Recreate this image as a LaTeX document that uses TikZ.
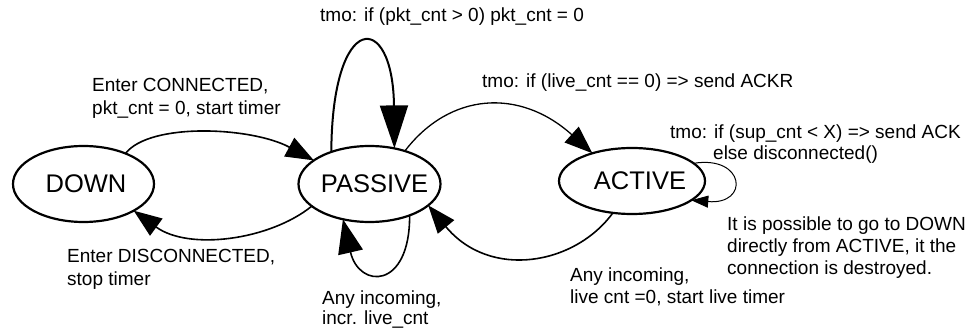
\documentclass[tikz,border=0pt]{standalone}
\usepackage{fontspec}
\setmainfont{Liberation Sans}
\usetikzlibrary{arrows.meta,shapes.geometric}
\begin{document}
\begin{tikzpicture}[x=1pt,y=-1pt,
  state/.style={ellipse,draw,line width=2.2pt,inner sep=0pt,outer sep=0pt,font=\fontsize{25.5}{30}\selectfont},
  lbl/.style={anchor=base west,inner sep=0pt,font=\fontsize{19}{23}\selectfont},
  edge/.style={line width=1.6pt,-{Triangle[length=28pt,width=21pt]}},
]
\useasboundingbox (0,0) rectangle (966,328);
\node[state,minimum width=141pt,minimum height=76pt] (D) at (83.5,184) {\makebox[0pt]{\hspace*{5pt}DOWN}};
\node[state,minimum width=142pt,minimum height=76pt] (P) at (369.5,184) {\makebox[0pt]{\hspace*{10pt}PASSIVE}};
\node[state,minimum width=146pt,minimum height=66pt] (A) at (632,181) {\makebox[0pt]{\hspace*{16pt}ACTIVE}};

% DOWN -> PASSIVE
\draw[edge] (D.36.6) .. controls (150,122) and (252,127) .. (P.157);
% PASSIVE -> DOWN
\draw[edge] (P.201) .. controls (270,240) and (189,251) .. (D.-28.5);
% PASSIVE top self loop
\draw[line width=2pt,-{Triangle[length=43pt,width=28pt]}] (P.140.7) .. controls (332,10) and (393,10) .. (P.55.4);
% PASSIVE -> ACTIVE
\draw[edge,line width=1.3pt] (P.43.9) .. controls (450,92) and (520,88) .. (A.145.4);
% ACTIVE -> PASSIVE
\draw[edge] (A.239.9) .. controls (575,265) and (490,280) .. (P.-20.8);
% PASSIVE bottom self loop
\draw[line width=1.6pt,-{Triangle[length=34pt,width=25pt]}] (P.-38) .. controls (410,290) and (359,289) .. (P.233.8);
% ACTIVE self loop
\draw[line width=1pt,-{Triangle[length=17pt,width=12pt]}] (A.16.4) .. controls (745,155) and (750,205) .. (A.-18);

\node[lbl] (l1a) at (92,92) {Enter CONNECTED,};
\node[lbl] (l1b) at (92,115) {pkt\_cnt = 0, start timer};
\node[lbl] (l2) at (320,22) {tmo: if (pkt\_cnt > 0) pkt\_cnt = 0};
\node[lbl] (l3) at (482,88) {tmo: if (live\_cnt == 0) => send ACKR};
\node[lbl] (l4a) at (670,139) {tmo: if (sup\_cnt < X) => send ACK};
\node[lbl] (l4b) at (713,160) {else disconnected()};
\node[lbl] (l5a) at (727,231) {It is possible to go to DOWN};
\node[lbl] (l5b) at (727,253) {directly from ACTIVE, it the};
\node[lbl] (l5c) at (727,275) {connection is destroyed.};
\node[lbl] (l6a) at (570,282) {Any incoming,};
\node[lbl] (l6b) at (570,304) {live cnt =0, start live timer};
\node[lbl] (l7a) at (67,263) {Enter DISCONNECTED,};
\node[lbl] (l7b) at (67,286) {stop timer};
\node[lbl] (l8a) at (322,305) {Any incoming,};
\node[lbl] (l8b) at (322,325) {incr. live\_cnt};
\end{tikzpicture}
\end{document}
